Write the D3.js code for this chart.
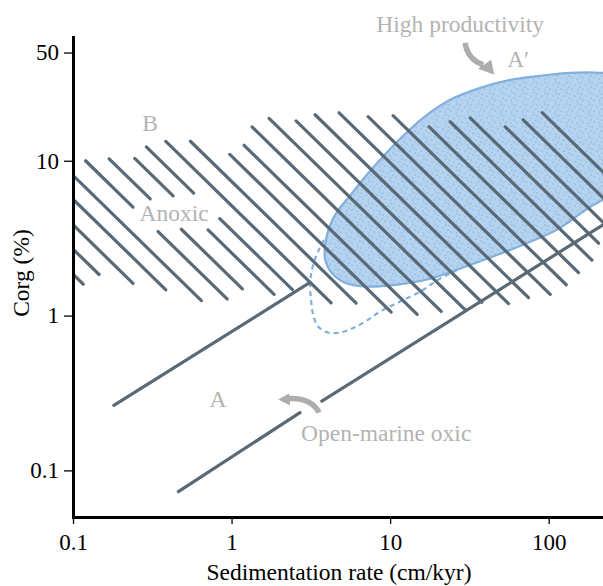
<!DOCTYPE html>
<html>
<head>
<meta charset="utf-8">
<script src="https://cdn.jsdelivr.net/npm/d3@7"></script>
<style>
  html, body { margin: 0; padding: 0; background: #fff; }
  svg { display: block; }
  svg text { font-family: "Liberation Serif", "Times New Roman", Times, "DejaVu Serif", serif; }
</style>
</head>
<body>
<div id="chart"></div>
<script>
const xTicks = [0.1, 1, 10, 100];
const yTicks = [0.1, 1, 10, 50];

// anoxic hatching: each line keeps Corg x rate constant, spans are rate ranges
const hatchProducts = [0.185, 0.269, 0.386, 0.565, 0.805, 1.20, 1.74, 2.54, 3.56, 5.13,
    7.35, 10.7, 15.1, 22.3, 32.4, 46.2, 66.7, 97.3, 140, 204, 292, 427, 605, 881, 1270, 1860];
const hatchSpans = [
    [[0.1, 0.116]],
    [[0.1, 0.146]],
    [[0.1, 0.239]],
    [[0.1, 0.385]],
    [[0.1, 0.645]],
    [[0.120, 0.239], [0.344, 0.937]],
    [[0.169, 0.307], [0.482, 1.17]],
    [[0.245, 0.428], [0.711, 1.854]],
    [[0.290, 0.577], [0.842, 2.419]],
    [[0.385, 4.245]],
    [[0.550, 6.10]],
    [[0.974, 10.15]],
    [[1.2, 14.81]],
    [[1.347, 20.98]],
    [[1.724, 29.74]],
    [[2.552, 37.89]],
    [[3.364, 55.78]],
    [[4.767, 74.57]],
    [[7.263, 102.2]],
    [[10.44, 129]],
    [[17.62, 154.2]],
    [[23.9, 187.3]],
    [[31.96, 206.2]],
    [[53.18, 230]],
    [[69.05, 230]],
    [[90.99, 230]]
];

// open-marine oxic band edges
const oxicUpper = [[0.181, 0.263], [3.11, 1.63]];
const oxicLowerLeft = [[0.462, 0.073], [2.70, 0.236]];
const oxicLowerRight = [[3.71, 0.280], [220, 3.86]];

// high productivity field and its dashed extension
const blobOutline = [
    [3.89, 2.83], [4.12, 3.70], [4.63, 4.69], [5.59, 5.95], [6.96, 7.88], [8.77, 10.30],
    [11.56, 13.87], [16.16, 18.94], [23.9, 24.75], [36.97, 29.58], [57.17, 33.31], [88.4, 35.35],
    [136.6, 36.96], [211.3, 36.96], [282.6, 35.35], [378, 18.3], [282.6, 6.50], [220.7, 5.60],
    [182.7, 5.05], [113.1, 3.59], [69.05, 2.87], [42.74, 2.37], [26.47, 1.98], [17.12, 1.71],
    [11.07, 1.585], [7.16, 1.54], [5.35, 1.61], [4.31, 1.87], [3.89, 2.30]
];
const dashedOutline = [
    [3.83, 3.09], [3.51, 2.59], [3.27, 2.13], [3.13, 1.633], [3.17, 1.268], [3.27, 1.015],
    [3.51, 0.849], [4.06, 0.777], [4.84, 0.777], [5.76, 0.824], [6.96, 0.915], [8.65, 1.061],
    [11.56, 1.231], [15.46, 1.428], [20.68, 1.733], [26.1, 1.95]
];

const annotations = [
    { text: "High productivity", x: 27.65, y: 67.9, anchor: "middle" },
    { text: "A\u2032", x: 54.7, y: 40.4, anchor: "start" },
    { text: "B", x: 0.306, y: 15.6, anchor: "middle" },
    { text: "Anoxic", x: 0.434, y: 4.10, anchor: "middle" },
    { text: "A", x: 0.822, y: 0.255, anchor: "middle" },
    { text: "Open-marine oxic", x: 9.44, y: 0.155, anchor: "middle" }
];

// arrow tips in data units, shapes in px relative to the tip
const arrows = [
    { x: 45.3, y: 35.9, shaft: "M-29,-32 Q-27,-16 -11,-10", head: [[0, 0], [-3, -15], [-16, -6]] },
    { x: 1.966, y: 0.287, shaft: "M41,13 Q33,-2 11,-1", head: [[0, 0], [11, -6], [12, 6]] }
];

const serif = "'Liberation Serif', 'Times New Roman', Times, 'DejaVu Serif', serif";

class CorgChart {
    constructor(containerId, options = {}) {
        this.containerId = containerId;
        this.options = {
            width: options.width || 603,
            height: options.height || 586,
            margin: options.margin || { top: 37, right: 0, bottom: 69, left: 73 },
            hatchColor: "#596a76",
            labelColor: "#b3b3b3",
            arrowColor: "#adadad"
        };
        this.initChart();
    }

    initChart() {
        const { width, height, margin } = this.options;
        const innerWidth = width - margin.left - margin.right;
        const innerHeight = height - margin.top - margin.bottom;

        this.svg = d3.select(`#${this.containerId}`)
            .append("svg")
            .attr("width", width)
            .attr("height", height)
            .attr("font-family", serif);

        this.g = this.svg.append("g")
            .attr("transform", `translate(${margin.left},${margin.top})`);

        this.x = d3.scaleLog().domain([0.1, 220]).range([0, innerWidth]);
        this.y = d3.scaleLog().domain([0.05, 63]).range([innerHeight, 0]);

        const defs = this.svg.append("defs");
        defs.append("clipPath")
            .attr("id", "plot-clip")
            .append("rect")
            .attr("width", innerWidth)
            .attr("height", innerHeight);

        const stipple = defs.append("pattern")
            .attr("id", "stipple")
            .attr("patternUnits", "userSpaceOnUse")
            .attr("width", 11)
            .attr("height", 11);
        stipple.append("rect").attr("width", 11).attr("height", 11).attr("fill", "#b5d3ef");
        [[2, 2], [7, 4], [4, 8], [9.5, 9], [10, 1], [1, 6]].forEach(p => {
            stipple.append("circle")
                .attr("cx", p[0]).attr("cy", p[1]).attr("r", 0.85)
                .attr("fill", "#8dbbe5");
        });

        this.plot = this.g.append("g").attr("clip-path", "url(#plot-clip)");

        this.drawBlob();
        this.drawHatches();
        this.drawOxicLines();
        this.drawAxes(innerWidth, innerHeight);
        this.drawAnnotations();
    }

    drawBlob() {
        const dashed = d3.line()
            .x(d => this.x(d[0]))
            .y(d => this.y(d[1]))
            .curve(d3.curveCatmullRom.alpha(0.5));

        this.plot.append("path")
            .attr("d", dashed(dashedOutline))
            .style("fill", "none")
            .style("stroke", "#7fb0dc")
            .style("stroke-width", "2.2px")
            .style("stroke-dasharray", "5,4");

        const outline = d3.line()
            .x(d => this.x(d[0]))
            .y(d => this.y(d[1]))
            .curve(d3.curveCatmullRomClosed.alpha(0.5));

        this.plot.append("path")
            .attr("d", outline(blobOutline))
            .style("fill", "url(#stipple)")
            .style("stroke", "#82b0dc")
            .style("stroke-width", "2.2px");
    }

    drawHatches() {
        const segments = [];
        hatchProducts.forEach((k, i) => {
            hatchSpans[i].forEach(span => {
                segments.push({ k: k, x0: span[0], x1: span[1] });
            });
        });

        this.plot.append("g")
            .attr("class", "hatches")
            .selectAll("line")
            .data(segments)
            .enter()
            .append("line")
            .attr("x1", d => this.x(d.x0))
            .attr("y1", d => this.y(d.k / d.x0))
            .attr("x2", d => this.x(d.x1))
            .attr("y2", d => this.y(d.k / d.x1))
            .style("stroke", this.options.hatchColor)
            .style("stroke-width", "3.2px")
            .style("stroke-linecap", "round");
    }

    drawOxicLines() {
        const line = d3.line()
            .x(d => this.x(d[0]))
            .y(d => this.y(d[1]));

        this.plot.append("g")
            .attr("class", "oxic")
            .selectAll("path")
            .data([oxicUpper, oxicLowerLeft, oxicLowerRight])
            .enter()
            .append("path")
            .attr("d", d => line(d))
            .style("fill", "none")
            .style("stroke", this.options.hatchColor)
            .style("stroke-width", "3.2px")
            .style("stroke-linecap", "round");
    }

    drawAxes(innerWidth, innerHeight) {
        const xAxis = this.g.append("g")
            .attr("class", "x-axis")
            .attr("transform", `translate(0,${innerHeight})`)
            .call(d3.axisBottom(this.x)
                .tickValues(xTicks)
                .tickFormat(d => d)
                .tickSize(7)
                .tickSizeOuter(0)
                .tickPadding(10));

        const yAxis = this.g.append("g")
            .attr("class", "y-axis")
            .call(d3.axisLeft(this.y)
                .tickValues(yTicks)
                .tickFormat(d => d)
                .tickSize(9)
                .tickSizeOuter(0)
                .tickPadding(5));

        [xAxis, yAxis].forEach(axis => {
            axis.attr("font-family", serif).attr("font-size", 23);
            axis.select(".domain")
                .style("stroke", "#000")
                .style("stroke-width", "3px")
                .style("stroke-linecap", "square");
            axis.selectAll(".tick line")
                .style("stroke", "#000")
                .style("stroke-width", "1.3px");
            axis.selectAll(".tick text")
                .style("fill", "#000");
        });

        this.g.append("text")
            .attr("x", innerWidth / 2 + 1)
            .attr("y", innerHeight + 63)
            .attr("font-size", 23.5)
            .style("text-anchor", "middle")
            .style("fill", "#000")
            .text("Sedimentation rate (cm/kyr)");

        this.g.append("text")
            .attr("transform", `translate(-44,${innerHeight / 2 - 4}) rotate(-90)`)
            .attr("font-size", 23.5)
            .style("text-anchor", "middle")
            .style("fill", "#000")
            .text("Corg (%)");
    }

    drawAnnotations() {
        this.g.append("g")
            .attr("class", "annotations")
            .selectAll("text")
            .data(annotations)
            .enter()
            .append("text")
            .attr("x", d => this.x(d.x))
            .attr("y", d => this.y(d.y))
            .attr("font-size", 23.5)
            .style("text-anchor", d => d.anchor)
            .style("fill", this.options.labelColor)
            .text(d => d.text);

        const arrow = this.g.append("g")
            .attr("class", "arrows")
            .selectAll("g")
            .data(arrows)
            .enter()
            .append("g")
            .attr("transform", d => `translate(${this.x(d.x)},${this.y(d.y)})`);

        arrow.append("path")
            .attr("d", d => d.shaft)
            .style("fill", "none")
            .style("stroke", this.options.arrowColor)
            .style("stroke-width", "5.5px");

        arrow.append("polygon")
            .attr("points", d => d.head.map(p => p.join(",")).join(" "))
            .style("fill", this.options.arrowColor);
    }
}

new CorgChart("chart");
</script>
</body>
</html>
